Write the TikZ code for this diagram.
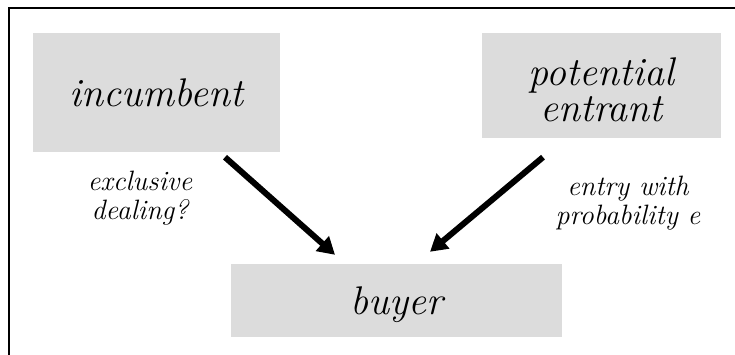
\documentclass[tikz,border=0pt]{standalone}
\usetikzlibrary{arrows.meta}
\definecolor{boxgray}{RGB}{220,220,220}
\tikzset{
  party/.style={fill=boxgray, draw=none, inner sep=0pt, align=center,
    font=\fontsize{40}{36}\selectfont\itshape},
  note/.style={align=center, inner sep=0pt, font=\fontsize{28}{29}\selectfont\itshape},
  bigarrow/.style={line width=6pt, -{Triangle[length=17pt,width=19pt]}},
  frame/.style={line width=2pt}
}
\begin{document}
\begin{tikzpicture}[x=1pt,y=-1pt]
\useasboundingbox (0,0) rectangle (735,355);
\draw[frame] (9,355) -- (9,8) -- (735,8);
\node[party, minimum width=247pt, minimum height=119pt, text depth=0pt] (inc) at (156.5,92.5) {incumbent};
\node[party, minimum width=239pt, minimum height=105pt] (ent) at (601.5,85.5) {\rule{0pt}{37pt}potential\\entrant};
\node[party, minimum width=331pt, minimum height=73pt, text depth=0pt] (buy) at (396.5,300.5) {buyer};
\draw[bigarrow] ([xshift=68.5pt,yshift=-5pt]inc.south) -- ([xshift=-61.5pt,yshift=9pt]buy.north);
\draw[bigarrow] ([xshift=-58.5pt,yshift=-19pt]ent.south) -- ([xshift=33.5pt,yshift=12pt]buy.north);
\node[note] (l1) at (140,198.5) {exclusive\\dealing?};
\node[note] (l2) at (628,203) {entry with\\probability e};
\end{tikzpicture}
\end{document}
